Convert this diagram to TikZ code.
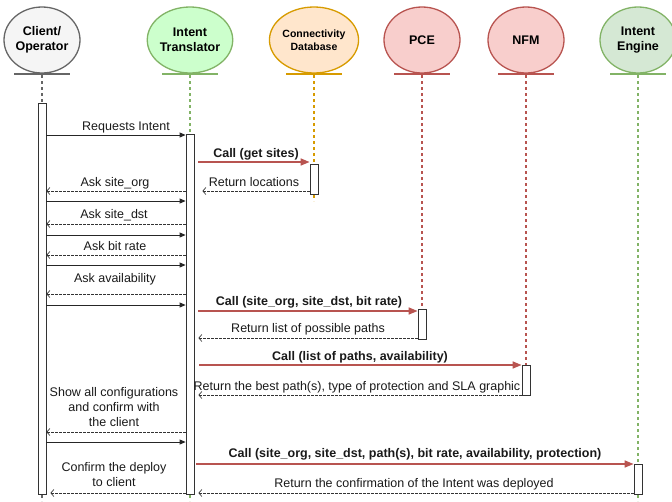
\documentclass[tikz,border=0pt]{standalone}
\usepackage{fontspec}
\setmainfont{Liberation Sans}
\usetikzlibrary{shapes.geometric,arrows.meta}
\definecolor{cgray}{HTML}{666666}
\definecolor{cgrayf}{HTML}{F5F5F5}
\definecolor{cgreen}{HTML}{82B366}
\definecolor{cgreenf}{HTML}{D5E8D4}
\definecolor{clime}{HTML}{CCFFCC}
\definecolor{corange}{HTML}{D79B00}
\definecolor{corangef}{HTML}{FFE6CC}
\definecolor{cred}{HTML}{B85450}
\definecolor{credf}{HTML}{F8CECC}
\definecolor{cline}{HTML}{333333}
\begin{document}
\begin{tikzpicture}[x=1pt,y=-1pt,
  actor/.style={ellipse, line width=1.3pt, minimum width=76pt, minimum height=66pt, inner sep=0pt, align=center, font=\fontsize{12.5}{14.5}\selectfont\bfseries},
  foot/.style={line width=1.6pt},
  bar/.style={draw=cline, fill=white, minimum width=8pt, inner sep=0pt, line width=0.8pt},
  life/.style={dash pattern=on 3pt off 3pt, line width=1.2pt},
  req/.style={draw=black!85, line width=0.8pt, -{Triangle[length=6pt,width=5pt]}},
  ret/.style={draw=cline, line width=0.7pt, dash pattern=on 2.5pt off 1.5pt, -{Straight Barb[length=3pt,width=7pt]}},
  call/.style={draw=cred, line width=1.6pt, -{Triangle[length=9pt,width=7pt]}},
  lab/.style={anchor=base, inner sep=0pt, font=\fontsize{12.5}{15}\selectfont, text=black!90},
  blab/.style={lab, font=\fontsize{12.5}{15}\selectfont\bfseries}
]
\useasboundingbox (0,0) rectangle (672,501);

% actors
\node[actor, draw=cgray, fill=cgrayf] (client) at (42,40) {Client/\\Operator};
\node[actor, draw=cgreen, fill=clime] (trans) at (190,40) {Intent\\Translator};
\node[actor, draw=corange, fill=corangef, font=\fontsize{10.5}{13.5}\selectfont\bfseries] (cdb) at (314,40) {Connectivity\\Database};
\node[actor, draw=cred, fill=credf] (pce) at (422,40) {PCE};
\node[actor, draw=cred, fill=credf] (nfm) at (526,40) {NFM};
\node[actor, draw=cgreen, fill=cgreenf] (eng) at (638,40) {Intent\\Engine};

% footlines
\draw[foot, cgray] ([xshift=-28pt]client.south |- 0,74) -- ([xshift=28pt]client.south |- 0,74);
\draw[foot, cgreen] ([xshift=-28pt]trans.south |- 0,74) -- ([xshift=28pt]trans.south |- 0,74);
\draw[foot, corange] ([xshift=-28pt]cdb.south |- 0,74) -- ([xshift=28pt]cdb.south |- 0,74);
\draw[foot, cred] ([xshift=-28pt]pce.south |- 0,74) -- ([xshift=28pt]pce.south |- 0,74);
\draw[foot, cred] ([xshift=-28pt]nfm.south |- 0,74) -- ([xshift=28pt]nfm.south |- 0,74);
\draw[foot, cgreen] ([xshift=-28pt]eng.south |- 0,74) -- ([xshift=28pt]eng.south |- 0,74);

% lifelines
\draw[life, cgray] (client.south |- 0,75) -- (client.south |- 0,501);
\draw[life, cgreen] (trans.south |- 0,75) -- (trans.south |- 0,501);
\draw[life, corange] (cdb.south |- 0,75) -- (cdb.south |- 0,201);
\draw[life, cred] (pce.south |- 0,75) -- (pce.south |- 0,309);
\draw[life, cred] (nfm.south |- 0,75) -- (nfm.south |- 0,365);
\draw[life, cgreen] (eng.south |- 0,75) -- (eng.south |- 0,501);

% activation bars
\node[bar, minimum height=391pt] (cb) at (42,298.5) {};
\node[bar, minimum height=360pt] (tb) at (190,314) {};
\node[bar, minimum height=30pt] (dbb) at (314,179) {};
\node[bar, minimum height=30pt] (pb) at (422,324) {};
\node[bar, minimum height=30pt] (nb) at (526,380) {};
\node[bar, minimum height=30pt] (eb) at (638,479) {};

% messages
\draw[req] (cb.east |- 0,135) -- (tb.west |- 0,135);
\node[lab] at (126,130) {Requests Intent};

\draw[call] ([xshift=4pt]tb.east |- 0,162) -- (dbb.west |- 0,162);
\node[blab] at (256,157) {Call (get sites)};

\draw[ret] (dbb.west |- 0,191) -- ([xshift=8pt]tb.east |- 0,191);
\node[lab] at (254,186) {Return locations};

\draw[ret] (tb.west |- 0,191) -- (cb.east |- 0,191);
\node[lab] at (115,186) {Ask site\_org};
\draw[req] (cb.east |- 0,201) -- (tb.west |- 0,201);

\draw[ret] (tb.west |- 0,224) -- (cb.east |- 0,224);
\node[lab] at (114,218.5) {Ask site\_dst};
\draw[req] (cb.east |- 0,235) -- (tb.west |- 0,235);

\draw[ret] (tb.west |- 0,255) -- (cb.east |- 0,255);
\node[lab] at (115,250) {Ask bit rate};
\draw[req] (cb.east |- 0,265) -- (tb.west |- 0,265);

\draw[ret] (tb.west |- 0,294) -- (cb.east |- 0,294);
\node[lab] at (115,282) {Ask availability};
\draw[req] (cb.east |- 0,305) -- (tb.west |- 0,305);

\draw[call] ([xshift=4pt]tb.east |- 0,311) -- (pb.west |- 0,311);
\node[blab] at (309,305) {Call (site\_org, site\_dst, bit rate)};

\draw[ret] (pb.west |- 0,338) -- ([xshift=4pt]tb.east |- 0,338);
\node[lab] at (308,332.5) {Return list of possible paths};

\draw[call] ([xshift=5pt]tb.east |- 0,365) -- (nb.west |- 0,365);
\node[blab] at (360,360) {Call (list of paths, availability)};

\draw[ret] (nb.west |- 0,395) -- ([xshift=4pt]tb.east |- 0,395);
\node[lab] at (357,390) {Return the best path(s), type of protection and SLA graphic};

\draw[ret] (tb.west |- 0,432) -- (cb.east |- 0,432);
\node[lab, align=center] at (114,426.7) {Show all configurations\\and confirm with\\the client};
\draw[req] (cb.east |- 0,442) -- (tb.west |- 0,442);

\draw[call] ([xshift=2pt]tb.east |- 0,464) -- (eb.west |- 0,464);
\node[blab] at (415,457) {Call (site\_org, site\_dst, path(s), bit rate, availability, protection)};

\draw[ret] (tb.west |- 0,493) -- ([xshift=4pt]cb.east |- 0,493);
\node[lab, align=center] at (114,486.7) {Confirm the deploy\\to client};

\draw[ret] (eb.west |- 0,493) -- ([xshift=4pt]tb.east |- 0,493);
\node[lab] at (414,487.5) {Return the confirmation of the Intent was deployed};
\end{tikzpicture}
\end{document}
